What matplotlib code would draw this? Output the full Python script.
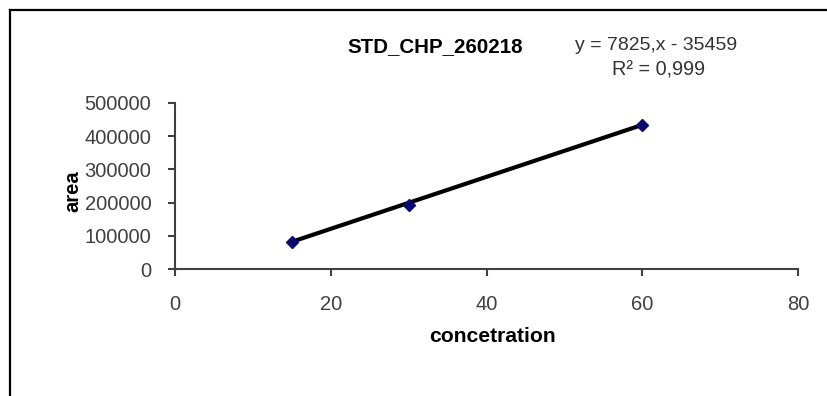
import matplotlib.pyplot as plt
from matplotlib.lines import Line2D
import numpy as np

plt.rcParams['font.family'] = ['Liberation Sans', 'DejaVu Sans']

# calibration standards
concentration = [15, 30, 60]
area = [81500, 193500, 434000]

# trendline coefficients as printed on the chart
slope = 7825
intercept = -35459
r_squared = 0.999

x_ticks = [0, 20, 40, 60, 80]
y_ticks = [0, 100000, 200000, 300000, 400000, 500000]

fig = plt.figure(figsize=(8.27, 3.96), dpi=100)
ax = fig.add_axes([0.2116, 0.3207, 0.7534, 0.4193])

xs = np.array([min(concentration), max(concentration)])
ax.plot(xs, slope * xs + intercept, color='black', lw=3.0, zorder=2)
ax.plot(concentration, area, linestyle='none', marker='D', ms=6.5,
        color='#0a0a6e', zorder=3)

ax.set_xlim(0, 80)
ax.set_ylim(0, 500000)
ax.set_xticks(x_ticks)
ax.set_yticks(y_ticks)
ax.set_xticklabels([str(v) for v in x_ticks])
ax.set_yticklabels([str(v) for v in y_ticks])

for side in ['top', 'right']:
    ax.spines[side].set_visible(False)
for side in ['left', 'bottom']:
    ax.spines[side].set_color('#404040')
    ax.spines[side].set_linewidth(1.5)
ax.tick_params(axis='both', direction='out', length=5, width=1.5,
               color='#404040', labelcolor='#404040', labelsize=14.5)
ax.tick_params(axis='y', pad=12)
ax.tick_params(axis='x', pad=14)

ax.set_xlabel('concetration', fontsize=15.2, fontweight='bold')
ax.xaxis.set_label_coords(0.509, -0.35)
ax.set_ylabel('area', fontsize=14.5, fontweight='bold')
ax.yaxis.set_label_coords(-0.148, 0.47)

fig.text(435 / 827, 1 - 47 / 396, 'STD_CHP_260218', fontsize=14.8,
         fontweight='bold', ha='center', va='center')
fig.text(575 / 827, 1 - 46 / 396,
         'y = {},x - {}'.format(slope, -intercept),
         fontsize=14, color='#333333', ha='left', va='center')
fig.text(612 / 827, 1 - 70 / 396,
         'R² = {}'.format(str(r_squared).replace('.', ',')),
         fontsize=14.3, color='#333333', ha='left', va='center')

# chart area frame (left and top edges)
fig.add_artist(Line2D([10 / 827, 10 / 827], [0, 1 - 10 / 396],
                      transform=fig.transFigure, color='black', lw=1.6))
fig.add_artist(Line2D([10 / 827, 1], [1 - 10 / 396, 1 - 10 / 396],
                      transform=fig.transFigure, color='black', lw=1.6))

fig.savefig('out.png', dpi=100)
